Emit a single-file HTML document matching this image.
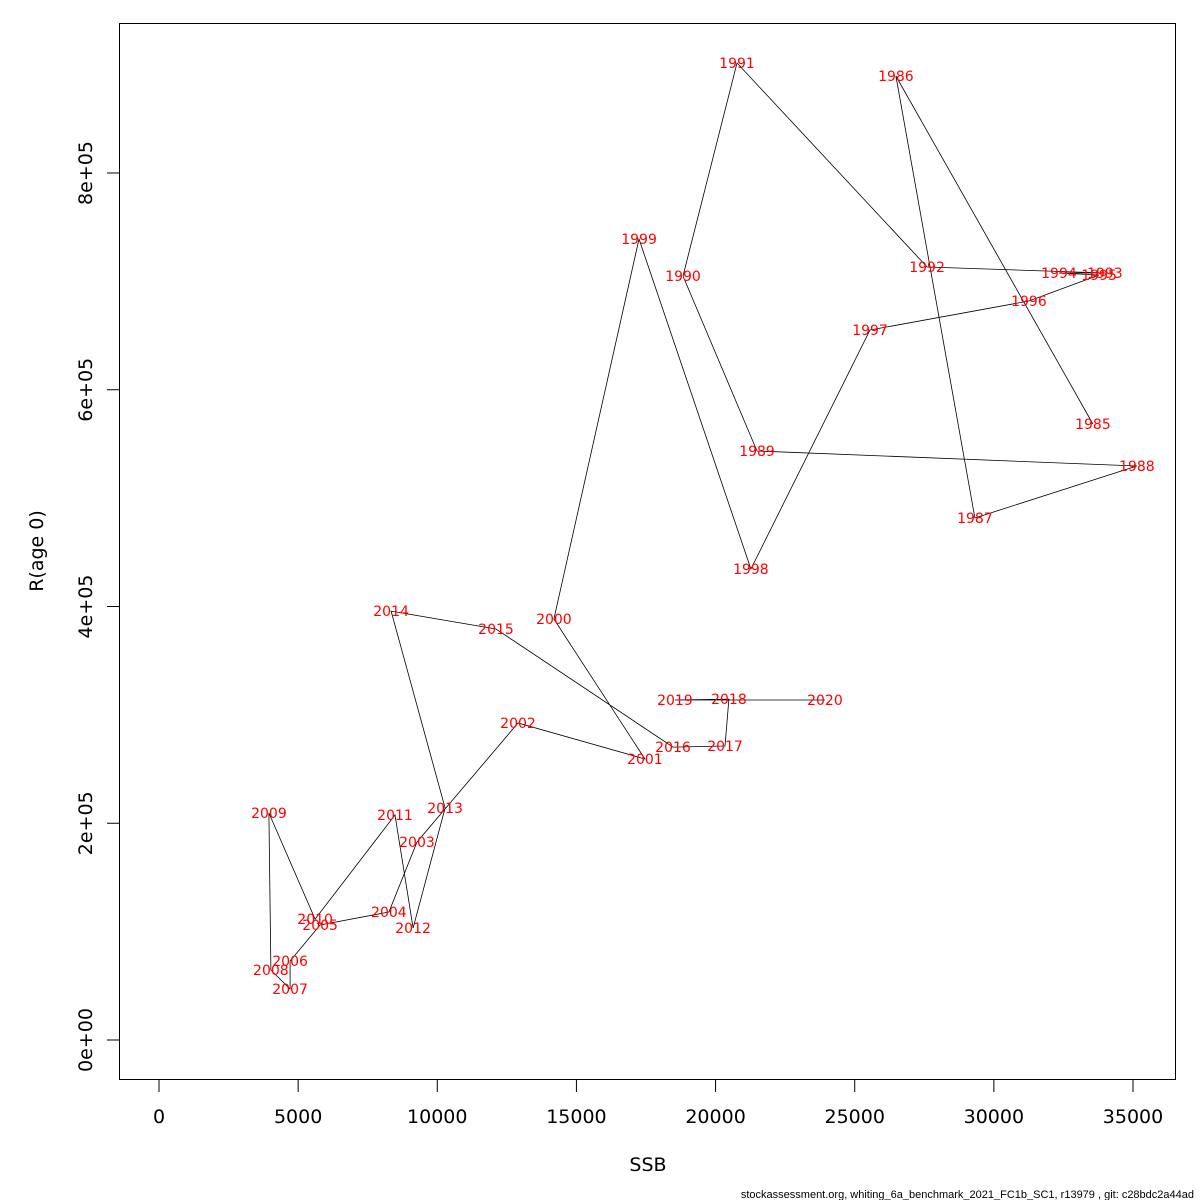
<!DOCTYPE html>
<html><head><meta charset="utf-8"><style>
html,body{margin:0;padding:0;background:#fff}
svg{display:block;font-family:"DejaVu Sans","Liberation Sans",sans-serif}
</style></head><body>
<svg id="chart" width="1200" height="1200" viewBox="0 0 1200 1200" xmlns="http://www.w3.org/2000/svg">
<rect x="119.5" y="23.5" width="1056" height="1056" fill="none" stroke="#000" stroke-width="1"/>
<g id="axes"></g>
<g id="series"></g>
<text x="648" y="1171" font-size="19" text-anchor="middle">SSB</text>
<text transform="translate(43,551) rotate(-90)" font-size="19" text-anchor="middle">R(age 0)</text>
<text x="1194" y="1198" font-size="11" text-anchor="end" font-family="Liberation Sans, sans-serif">stockassessment.org, whiting_6a_benchmark_2021_FC1b_SC1, r13979 , git: c28bdc2a44ad</text>
</svg>
<script>
const years=[1985,1986,1987,1988,1989,1990,1991,1992,1993,1994,1995,1996,1997,1998,1999,2000,2001,2002,2003,2004,2005,2006,2007,2008,2009,2010,2011,2012,2013,2014,2015,2016,2017,2018,2019,2020];
const ssb=[33560,26480,29320,35140,21490,18830,20770,27600,33990,32340,33780,31260,25550,21270,17250,14190,17460,12900,9270,8260,5790,4710,4710,4020,3950,5610,8480,9130,10280,8340,12110,18470,20340,20480,18540,23930];
const recruits=[568400,889500,481700,529600,543500,705000,901500,713300,707700,707700,705900,681900,655100,434600,739100,388500,259300,292500,182700,118100,106100,72900,47100,64600,209500,111600,207600,103300,214100,395800,379200,270300,271300,314600,313700,313700];
const xTicks=[0,5000,10000,15000,20000,25000,30000,35000];
const yTicks=[0,200000,400000,600000,800000];
const yTickLabels=["0e+00","2e+05","4e+05","6e+05","8e+05"];
const NS="http://www.w3.org/2000/svg";
function sx(v){return 159+v*(1133-159)/35000;}
function sy(v){return 1040-v*(1040-173)/800000;}
function mk(t,a,p){const e=document.createElementNS(NS,t);for(const k in a)e.setAttribute(k,a[k]);p.appendChild(e);return e;}
const ax=document.getElementById('axes');
const xl=mk('line',{x1:sx(0),x2:sx(35000),y1:1079.5,y2:1079.5,stroke:'#000'},ax);


xTicks.forEach(v=>{
 const l=mk('line',{x1:sx(v),x2:sx(v),y1:1080,y2:1092,stroke:'#000'},ax);
 
 
 const t=mk('text',{x:sx(v),y:1123,'font-size':19,'text-anchor':'middle'},ax);
 
 
 t.textContent=v;
});
const yl=mk('line',{x1:119.5,x2:119.5,y1:sy(0),y2:sy(800000),stroke:'#000'},ax);


yTicks.forEach((v,i)=>{
 const l=mk('line',{x1:107,x2:119,y1:sy(v),y2:sy(v),stroke:'#000'},ax);
 
 
 const t=mk('text',{transform:`translate(92,${sy(v)}) rotate(-90)`,'font-size':19,'text-anchor':'middle'},ax);
 
 
 t.textContent=yTickLabels[i];
});
const sg=document.getElementById('series');
const pts=ssb.map((v,i)=>sx(v).toFixed(1)+','+sy(recruits[i]).toFixed(1)).join(' ');
const pl=mk('polyline',{points:pts,fill:'none',stroke:'#000','stroke-width':0.8},sg);


years.forEach((y,i)=>{
 const t=mk('text',{x:sx(ssb[i]),y:sy(recruits[i])+5,'font-size':14,fill:'#ff0000','text-anchor':'middle'},sg);
 
 
 t.textContent=y;
});
</script>
</body></html>
